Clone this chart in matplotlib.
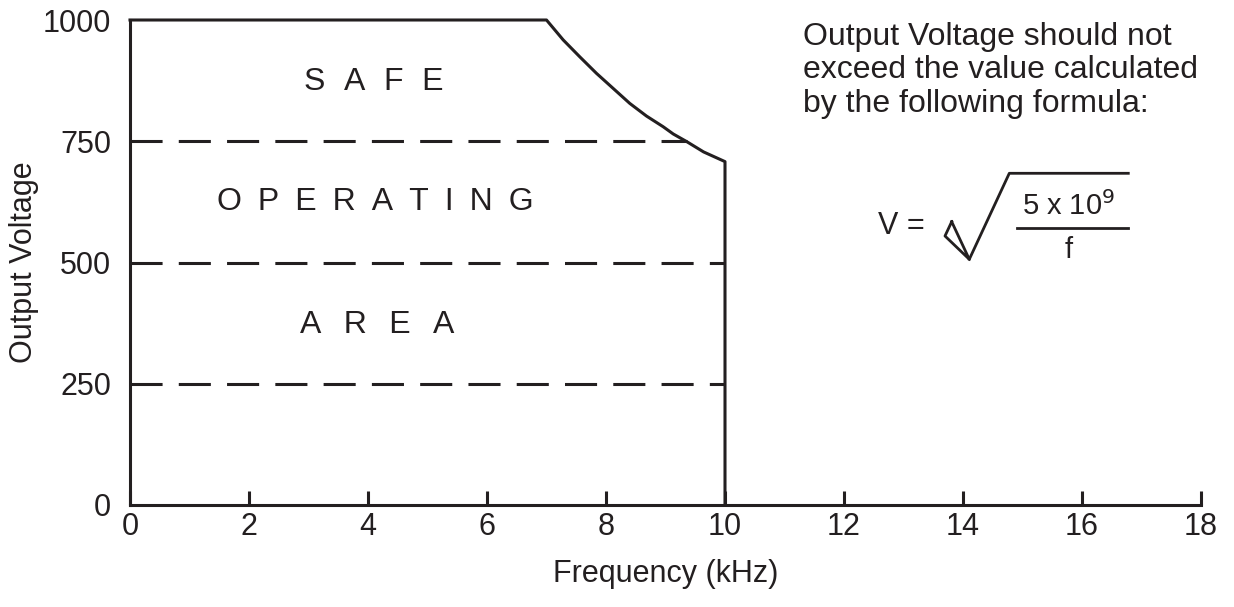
import matplotlib
matplotlib.use("Agg")
import matplotlib.pyplot as plt
from matplotlib.lines import Line2D

# datos
freq_khz = [0, 7.0, 7.28, 7.56, 7.84, 8.12, 8.40, 8.68, 8.96, 9.13, 9.36, 9.64, 10.0, 10.0]
volt = [1000, 1000, 959, 924, 890, 859, 828, 802, 780, 765, 749, 728, 708, 0]

niveles = [250, 500, 750]
fin_nivel = [10.0, 10.0, 9.36]

xticks = [0, 2, 4, 6, 8, 10, 12, 14, 16, 18]
yticks = [0, 250, 500, 750, 1000]

zonas = ["SAFE", "OPERATING", "AREA"]
zona_x = [4.1, 4.12, 4.16]
zona_y = [872, 625, 371]
zona_hueco = ["\u2002\u200a", "\u2002", "\u2002\u2009"]

nota = ["Output Voltage should not",
        "exceed the value calculated",
        "by the following formula:"]

ink = "#231f20"
plt.rcParams["font.family"] = ["Liberation Sans", "DejaVu Sans"]

W, H = 1234, 607
fig = plt.figure(figsize=(W / 100, H / 100), dpi=100)
ax = fig.add_axes([130 / W, 1 - 505 / H, (1201 - 130) / W, (505 - 20) / H])

# curva limite
ax.plot(freq_khz, volt, color=ink, lw=2.2, solid_joinstyle="round", clip_on=False)

# lineas a trazos
for v, xe in zip(niveles, fin_nivel):
    ax.plot([0, xe], [v, v], color=ink, lw=2.2, linestyle=(0, (10.5, 5.3)))

ax.set_xlim(0, 18)
ax.set_ylim(0, 1000)
for s in ["top", "right"]:
    ax.spines[s].set_visible(False)
for s in ["left", "bottom"]:
    ax.spines[s].set_linewidth(2.2)
    ax.spines[s].set_color(ink)

ax.set_xticks(xticks)
ax.set_yticks(yticks)
ax.tick_params(axis="x", direction="in", length=10, width=2.2, color=ink,
               labelsize=22, labelcolor=ink, pad=5)
ax.tick_params(axis="y", length=0, labelsize=22, labelcolor=ink, pad=13.5)

ax.set_xlabel("Frequency (kHz)", fontsize=22, color=ink, labelpad=12)
ax.set_ylabel("Output Voltage", fontsize=22, color=ink, labelpad=3)

# texto de zona, letras separadas
for t, x, y, sep in zip(zonas, zona_x, zona_y, zona_hueco):
    ax.text(x, y, sep.join(t), ha="center", va="center", fontsize=23, color=ink)

# nota y formula (en pixeles de la figura)
def fx(px):
    return px / W

def fy(py):
    return 1 - py / H

for i, linea in enumerate(nota):
    fig.text(fx(803), fy(45 + i * 33.5), linea, fontsize=23, color=ink,
             va="baseline", ha="left")

fig.text(fx(901), fy(226), "V =", fontsize=22, color=ink, ha="center", va="center")
fig.text(fx(1069), fy(206), r"5 x 10$^{9}$", fontsize=21, color=ink,
         ha="center", va="center")
fig.text(fx(1069), fy(250), "f", fontsize=21, color=ink, ha="center", va="center")

rad1 = [(951.7, 221.7), (945, 236), (969.3, 259.3), (951.7, 221.7)]
rad2 = [(969.3, 259.3), (1009.3, 173.3), (1128.3, 173.3)]
barra = [(1016.7, 227.7), (1128.3, 227.7)]
for pts in [rad1, rad2, barra]:
    fig.add_artist(Line2D([fx(p[0]) for p in pts], [fy(p[1]) for p in pts],
                          transform=fig.transFigure, color=ink, lw=2.0))

fig.savefig("out.png", dpi=100)
